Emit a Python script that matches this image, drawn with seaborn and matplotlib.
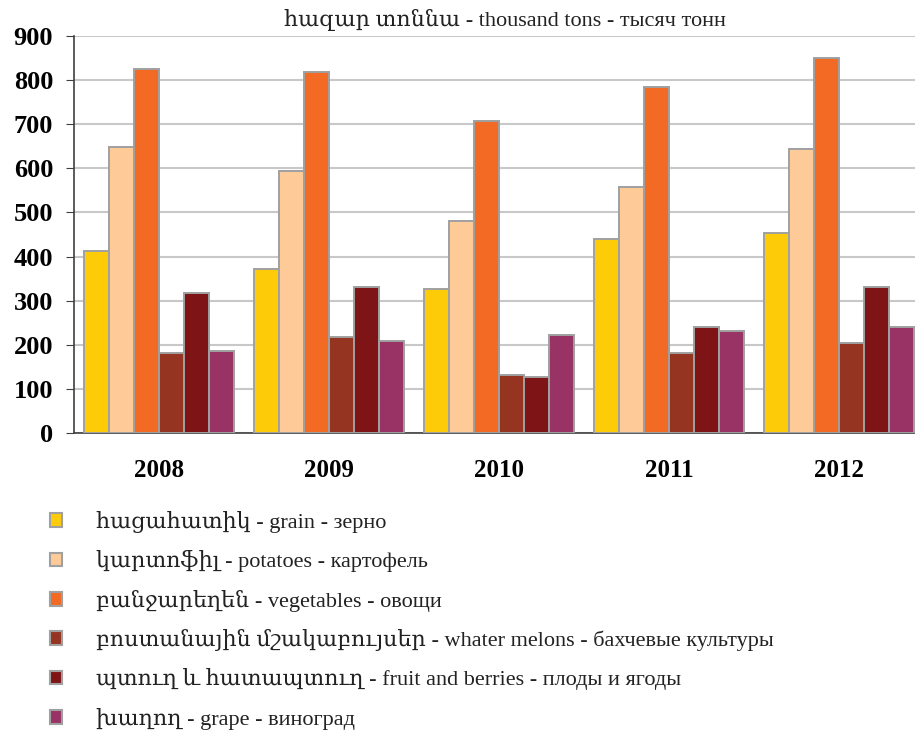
import matplotlib
matplotlib.use('Agg')
import matplotlib.pyplot as plt
import seaborn as sns
import pandas as pd
from matplotlib.patches import Patch

# data (thousand tons)
years = ['2008', '2009', '2010', '2011', '2012']
crops = [
    'հացահատիկ - grain - зерно',
    'կարտոֆիլ - potatoes - картофель',
    'բանջարեղեն - vegetables - овощи',
    'բոստանային մշակաբույսեր - whater melons - бахчевые культуры',
    'պտուղ և հատապտուղ - fruit and berries - плоды и ягоды',
    'խաղող - grape - виноград',
]
grain = [413, 372, 326, 440, 453]
potatoes = [649, 594, 481, 558, 644]
vegetables = [825, 818, 708, 785, 849]
melons = [181, 218, 131, 181, 203]
fruit = [317, 330, 126, 240, 330]
grape = [186, 209, 222, 231, 240]
colors = ['#FDCB07', '#FECB98', '#F26A23', '#953420', '#7F1416', '#993366']
yticks = [0, 100, 200, 300, 400, 500, 600, 700, 800, 900]
title = 'հազար տոննա - thousand tons - тысяч тонн'

series = [grain, potatoes, vegetables, melons, fruit, grape]
rows = []
for crop, vals in zip(crops, series):
    for yr, v in zip(years, vals):
        rows.append({'year': yr, 'crop': crop, 'value': v})
df = pd.DataFrame(rows)

sns.set_style('white')
serif = ['Liberation Serif', 'DejaVu Serif']
plt.rcParams['font.family'] = serif
plt.rcParams['text.color'] = '#222222'

fig = plt.figure(figsize=(9.15, 7.38), dpi=100)
ax = fig.add_axes([74 / 915, 1 - 433 / 738, 850 / 915, 397 / 738])

sns.barplot(data=df, x='year', y='value', hue='crop', hue_order=crops,
            palette=colors, width=0.882, edgecolor='#a0a0a0', linewidth=1.4,
            saturation=1, legend=False, ax=ax, zorder=3)

ax.set_xlim(-0.5, 4.5)
ax.set_ylim(0, 900)
ax.set_yticks(yticks)
ax.set_yticklabels([str(t) for t in yticks], fontsize=19, fontweight='bold',
                   color='black', family=serif)
ax.set_xticks([i + 0.5 for i in range(-1, 5)], minor=False)
ax.set_xticklabels([''] * 6)
ax.set_xticks(range(5), minor=True)
ax.set_xticklabels(years, minor=True, fontsize=18, fontweight='bold',
                   color='black', family=serif)
ax.tick_params(axis='x', which='minor', length=0, pad=19)
ax.tick_params(axis='x', which='major', length=6, color='#404040', direction='out')
ax.tick_params(axis='y', length=6, color='#404040', direction='out', left=True, pad=9)
ax.set_xlabel('')
ax.set_ylabel('')
ax.grid(axis='y', color='#c8c8c8', linewidth=1.5, zorder=0)
ax.set_axisbelow(True)
for s in ['top', 'right']:
    ax.spines[s].set_visible(False)
for s in ['left', 'bottom']:
    ax.spines[s].set_color('#404040')
    ax.spines[s].set_linewidth(1.2)

fig.text(505 / 915, 1 - 20 / 738, title, ha='center', va='center',
         fontsize=16, color='#222222', family=serif)

handles = [Patch(facecolor=c, edgecolor='#a0a0a0', linewidth=1.5) for c in colors]
fig.legend(handles, crops, loc='upper left', bbox_to_anchor=(50 / 915, 1 - 511 / 738),
           frameon=False, labelspacing=0.78, handlelength=0.55, borderpad=0,
           borderaxespad=0, handleheight=0.55, handletextpad=1.5,
           prop={'family': serif, 'size': 16})

fig.savefig('out.png', dpi=100)
